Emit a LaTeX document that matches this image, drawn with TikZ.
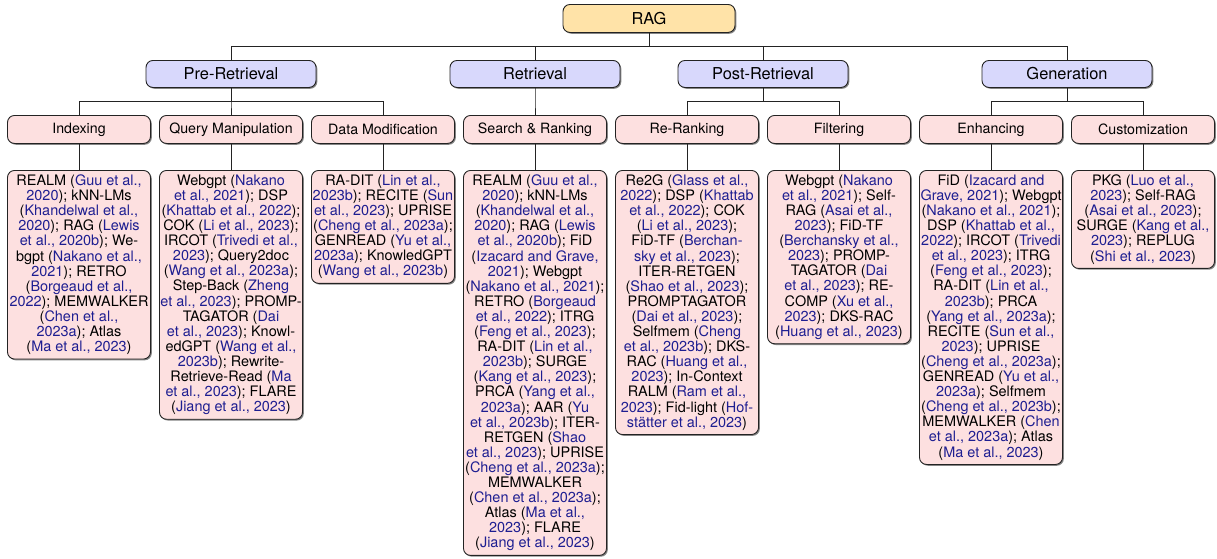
\documentclass[tikz,border=0pt]{standalone}
\usepackage{fontspec}
\setmainfont{TeX Gyre Heros}
\usetikzlibrary{shadows}
\definecolor{ragfill}{RGB}{255,227,168}
\definecolor{lonefill}{RGB}{216,216,252}
\definecolor{ltwofill}{RGB}{253,224,224}
\definecolor{citeblue}{RGB}{30,30,145}
\definecolor{edgecol}{RGB}{35,35,35}
\newcommand{\ct}[1]{\textcolor{citeblue}{#1}}
\begin{document}
\begin{tikzpicture}[x=1pt,y=-1pt,
  boxbase/.style={draw=edgecol, line width=0.9pt, rounded corners=7pt, anchor=north,
    drop shadow={shadow xshift=1.3pt, shadow yshift=-1.3pt, fill=black!60, opacity=0.8}},
  lvlzero/.style={boxbase, fill=ragfill, minimum width=172pt, minimum height=28pt, inner sep=0pt,
    font=\fontsize{16.4}{19}\selectfont},
  lvlone/.style={boxbase, fill=lonefill, minimum width=170pt, minimum height=27pt, inner sep=0pt,
    font=\fontsize{16.4}{19}\selectfont},
  lvltwo/.style={boxbase, fill=ltwofill, minimum width=143pt, minimum height=28pt, inner sep=0pt,
    font=\fontsize{14.2}{15.1}\selectfont},
  leafbox/.style={boxbase, fill=ltwofill, minimum width=143pt, inner xsep=0pt, inner ysep=4.3pt,
    align=center, font=\fontsize{14.45}{15.1}\selectfont},
  edgeline/.style={draw=edgecol, line width=0.9pt}
]
\useasboundingbox (0,0) rectangle (1217,558);

% level 0
\node[lvlzero] (rag) at (649,4) {RAG};

% level 1
\node[lvlone] (pre)  at (231,60)  {Pre-Retrieval};
\node[lvlone] (ret)  at (535,60)  {Retrieval};
\node[lvlone] (post) at (763,60)  {Post-Retrieval};
\node[lvlone] (gen)  at (1067,60) {Generation};

% level 2
\node[lvltwo] (idx) at (79,115)   {Indexing};
\node[lvltwo] (qm)  at (231,115)  {Query Manipulation};
\node[lvltwo] (dm)  at (383,115)  {Data Modification};
\node[lvltwo] (sr)  at (535,115)  {Search \& Ranking};
\node[lvltwo] (rr)  at (687,115)  {Re-Ranking};
\node[lvltwo] (fl)  at (839,115)  {Filtering};
\node[lvltwo] (en)  at (991,115)  {Enhancing};
\node[lvltwo] (cu)  at (1143,115) {Customization};

% leaves
\node[leafbox] (idxl) at (79,170) {REALM (\ct{Guu et al.,}\\
\ct{2020}); kNN-LMs\\
(\ct{Khandelwal et al.,}\\
\ct{2020}); RAG (\ct{Lewis}\\
\ct{et al., 2020b}); We-\\
bgpt (\ct{Nakano et al.,}\\
\ct{2021}); RETRO\\
(\ct{Borgeaud et al.,}\\
\ct{2022}); MEMWALKER\\
(\ct{Chen et al.,}\\
\ct{2023a}); Atlas\\
(\ct{Ma et al., 2023})};

\node[leafbox] (qml) at (231,170) {Webgpt (\ct{Nakano}\\
\ct{et al., 2021}); DSP\\
(\ct{Khattab et al., 2022});\\
COK (\ct{Li et al., 2023});\\
IRCOT (\ct{Trivedi et al.,}\\
\ct{2023}); Query2doc\\
(\ct{Wang et al., 2023a});\\
Step-Back (\ct{Zheng}\\
\ct{et al., 2023}); PROMP-\\
TAGATOR (\ct{Dai}\\
\ct{et al., 2023}); Knowl-\\
edGPT (\ct{Wang et al.,}\\
\ct{2023b}); Rewrite-\\
Retrieve-Read (\ct{Ma}\\
\ct{et al., 2023}); FLARE\\
(\ct{Jiang et al., 2023})};

\node[leafbox] (dml) at (383,170) {RA-DIT (\ct{Lin et al.,}\\
\ct{2023b}); RECITE (\ct{Sun}\\
\ct{et al., 2023}); UPRISE\\
(\ct{Cheng et al., 2023a});\\
GENREAD (\ct{Yu et al.,}\\
\ct{2023a}); KnowledGPT\\
(\ct{Wang et al., 2023b})};

\node[leafbox] (srl) at (535,170) {REALM (\ct{Guu et al.,}\\
\ct{2020}); kNN-LMs\\
(\ct{Khandelwal et al.,}\\
\ct{2020}); RAG (\ct{Lewis}\\
\ct{et al., 2020b}); FiD\\
(\ct{Izacard and Grave,}\\
\ct{2021}); Webgpt\\
(\ct{Nakano et al., 2021});\\
RETRO (\ct{Borgeaud}\\
\ct{et al., 2022}); ITRG\\
(\ct{Feng et al., 2023});\\
RA-DIT (\ct{Lin et al.,}\\
\ct{2023b}); SURGE\\
(\ct{Kang et al., 2023});\\
PRCA (\ct{Yang et al.,}\\
\ct{2023a}); AAR (\ct{Yu}\\
\ct{et al., 2023b}); ITER-\\
RETGEN (\ct{Shao}\\
\ct{et al., 2023}); UPRISE\\
(\ct{Cheng et al., 2023a});\\
MEMWALKER\\
(\ct{Chen et al., 2023a});\\
Atlas (\ct{Ma et al.,}\\
\ct{2023}); FLARE\\
(\ct{Jiang et al., 2023})};

\node[leafbox] (rrl) at (687,170) {Re2G (\ct{Glass et al.,}\\
\ct{2022}); DSP (\ct{Khattab}\\
\ct{et al., 2022}); COK\\
(\ct{Li et al., 2023});\\
FiD-TF (\ct{Berchan-}\\
\ct{sky et al., 2023});\\
ITER-RETGEN\\
(\ct{Shao et al., 2023});\\
PROMPTAGATOR\\
(\ct{Dai et al., 2023});\\
Selfmem (\ct{Cheng}\\
\ct{et al., 2023b}); DKS-\\
RAC (\ct{Huang et al.,}\\
\ct{2023}); In-Context\\
RALM (\ct{Ram et al.,}\\
\ct{2023}); Fid-light (\ct{Hof-}\\
\ct{stätter et al., 2023})};

\node[leafbox] (fll) at (839,170) {Webgpt (\ct{Nakano}\\
\ct{et al., 2021}); Self-\\
RAG (\ct{Asai et al.,}\\
\ct{2023}); FiD-TF\\
(\ct{Berchansky et al.,}\\
\ct{2023}); PROMP-\\
TAGATOR (\ct{Dai}\\
\ct{et al., 2023}); RE-\\
COMP (\ct{Xu et al.,}\\
\ct{2023}); DKS-RAC\\
(\ct{Huang et al., 2023})};

\node[leafbox] (enl) at (991,170) {FiD (\ct{Izacard and}\\
\ct{Grave, 2021}); Webgpt\\
(\ct{Nakano et al., 2021});\\
DSP (\ct{Khattab et al.,}\\
\ct{2022}); IRCOT (\ct{Trivedi}\\
\ct{et al., 2023}); ITRG\\
(\ct{Feng et al., 2023});\\
RA-DIT (\ct{Lin et al.,}\\
\ct{2023b}); PRCA\\
(\ct{Yang et al., 2023a});\\
RECITE (\ct{Sun et al.,}\\
\ct{2023}); UPRISE\\
(\ct{Cheng et al., 2023a});\\
GENREAD (\ct{Yu et al.,}\\
\ct{2023a}); Selfmem\\
(\ct{Cheng et al., 2023b});\\
MEMWALKER (\ct{Chen}\\
\ct{et al., 2023a}); Atlas\\
(\ct{Ma et al., 2023})};

\node[leafbox] (cul) at (1143,170) {PKG (\ct{Luo et al.,}\\
\ct{2023}); Self-RAG\\
(\ct{Asai et al., 2023});\\
SURGE (\ct{Kang et al.,}\\
\ct{2023}); REPLUG\\
(\ct{Shi et al., 2023})};

% connectors level 0 -> 1
\foreach \c in {pre,ret,post,gen}
  \draw[edgeline] (rag.south) -- ++(0,14) -| (\c.north);
% level 1 -> 2
\foreach \p/\c in {pre/idx,pre/qm,pre/dm,ret/sr,post/rr,post/fl,gen/en,gen/cu}
  \draw[edgeline] (\p.south) -- ++(0,14) -| (\c.north);
% level 2 -> leaves
\foreach \p/\c in {idx/idxl,qm/qml,dm/dml,sr/srl,rr/rrl,fl/fll,en/enl,cu/cul}
  \draw[edgeline] (\p.south) -- (\c.north);
\end{tikzpicture}
\end{document}
